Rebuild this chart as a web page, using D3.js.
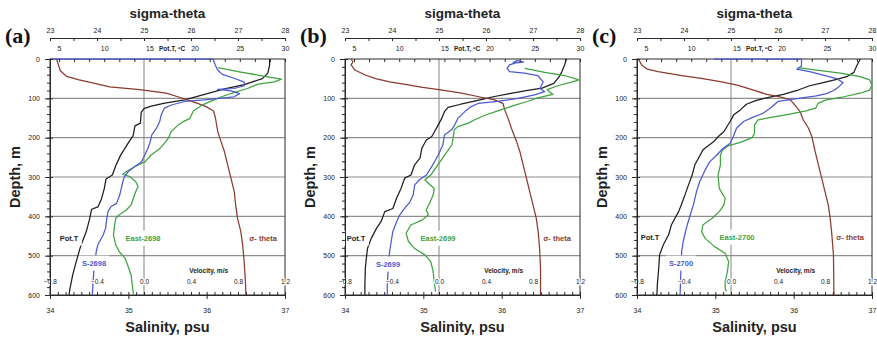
<!DOCTYPE html>
<html>
<head>
<meta charset="utf-8">
<script src="https://cdn.jsdelivr.net/npm/d3@7"></script>
<style>
  body { margin: 0; background: #fff; }
  svg { display: block; }
  text { font-family: "Liberation Sans", Arial, sans-serif; }
</style>
</head>
<body>
<svg id="chart" width="877" height="338"></svg>
<script>
// Axis ticks and labels
const depthTicks = [0, 100, 200, 300, 400, 500, 600];
const gridDepths = [100, 200, 300, 400, 500];
const sigmaTicks = [23, 24, 25, 26, 27, 28];
const tempTicks = [5, 10, 15, 20, 25, 30];
const salinityTicks = [34, 35, 36, 37];
const velocityTicks = [-0.8, -0.4, 0, 0.4, 0.8, 1.2];
const stations = ["2698", "2699", "2700"];
const panelLetters = ["(a)", "(b)", "(c)"];

// Profiles: [value, depth m]
const potT2698 = [[28.3,0],[28.3,15],[28.1,36],[27.5,50],[25.5,65],[23.3,76],[21.1,90],[18.9,104],[16.7,112],[15.2,120],[14.4,126],[14.1,135],[14.0,163],[13.4,170],[13.2,195],[12.7,212],[11.8,245],[11.3,270],[10.9,295],[10.2,305],[10.0,330],[9.7,355],[9.3,376],[8.6,382],[8.4,405],[8.0,440],[7.4,475],[6.9,515],[6.5,550],[6.2,585],[6.1,600]];
const sal2698 = [[34.00,0],[36.08,0],[36.11,15],[36.14,28],[36.20,39],[36.35,49],[36.48,59],[36.48,68],[36.35,75],[36.14,77],[36.31,81],[36.42,88],[36.35,96],[35.97,104],[35.72,108],[35.55,117],[35.46,125],[35.42,142],[35.40,159],[35.36,176],[35.30,193],[35.28,210],[35.25,227],[35.21,244],[35.17,261],[35.08,274],[35.00,286],[34.95,299],[34.93,312],[34.91,329],[34.89,346],[34.85,367],[34.78,375],[34.74,388],[34.72,413],[34.71,430],[34.68,447],[34.61,473],[34.59,490],[34.56,540],[34.55,566],[34.54,600]];
const east2698 = [[0.63,22],[0.80,32],[0.99,42],[1.17,51],[1.11,58],[0.97,64],[0.88,75],[0.75,87],[0.66,96],[0.58,106],[0.49,118],[0.42,132],[0.39,151],[0.33,160],[0.29,168],[0.23,185],[0.21,200],[0.18,212],[0.13,229],[0.06,244],[0.01,261],[-0.08,274],[-0.15,286],[-0.18,293],[-0.12,299],[-0.07,312],[-0.05,324],[-0.07,337],[-0.09,354],[-0.11,371],[-0.15,384],[-0.21,396],[-0.24,405],[-0.25,422],[-0.26,447],[-0.24,473],[-0.21,490],[-0.16,507],[-0.14,523],[-0.11,549],[-0.10,574],[-0.09,600]];
const sigma2698 = [[23.14,0],[23.18,15],[23.22,30],[23.35,44],[23.62,53],[23.95,62],[24.27,71],[24.91,78],[25.47,87],[25.72,96],[25.92,104],[26.14,113],[26.32,121],[26.48,132],[26.52,150],[26.57,185],[26.64,210],[26.71,235],[26.78,269],[26.85,303],[26.92,337],[26.95,371],[26.99,405],[27.06,439],[27.10,473],[27.13,515],[27.15,549],[27.17,600]];

const potT2699 = [[28.5,0],[28.3,15],[28.0,32],[27.7,45],[27.1,62],[25.8,74],[24.2,80],[22.2,88],[20.4,96],[19.3,102],[18.2,108],[16.8,115],[15.4,123],[15.0,134],[14.7,151],[14.3,168],[13.9,185],[13.6,197],[13.0,206],[12.5,227],[12.3,252],[11.7,269],[11.3,295],[10.6,303],[10.2,329],[9.7,354],[9.3,380],[8.4,388],[8.0,413],[7.5,430],[6.9,456],[6.5,481],[6.4,498],[6.25,532],[6.2,574],[6.2,600]];
const sal2699 = [[36.14,10],[36.20,4],[36.28,8],[36.18,10],[36.10,15],[36.07,24],[36.10,32],[36.29,36],[36.46,42],[36.53,58],[36.49,75],[36.55,83],[36.42,91],[36.21,100],[35.95,108],[35.70,113],[35.61,121],[35.55,130],[35.44,151],[35.40,168],[35.36,180],[35.27,193],[35.25,218],[35.19,244],[35.12,269],[35.04,295],[34.95,307],[34.89,320],[34.87,346],[34.83,363],[34.76,380],[34.70,396],[34.66,413],[34.61,439],[34.59,464],[34.57,490],[34.56,506],[34.55,540],[34.54,574],[34.54,600]];
const east2699 = [[0.73,24],[0.90,34],[1.07,42],[1.19,53],[1.13,59],[1.01,68],[0.92,78],[0.97,90],[0.84,99],[0.75,108],[0.64,118],[0.50,132],[0.39,143],[0.30,155],[0.25,163],[0.16,172],[0.13,180],[0.12,202],[0.11,218],[0.05,244],[-0.01,269],[-0.07,295],[-0.12,307],[-0.09,316],[-0.04,329],[-0.05,346],[-0.08,367],[-0.11,384],[-0.09,396],[-0.14,409],[-0.24,422],[-0.28,443],[-0.26,464],[-0.21,481],[-0.12,498],[-0.07,515],[-0.05,540],[-0.04,566],[-0.03,591]];
const sigma2699 = [[23.13,0],[23.17,7],[23.13,15],[23.21,28],[23.42,40],[23.65,50],[23.95,58],[24.35,66],[24.65,72],[25.00,78],[25.45,86],[25.85,96],[26.18,104],[26.36,113],[26.40,130],[26.47,151],[26.54,176],[26.65,210],[26.72,235],[26.79,269],[26.86,303],[26.93,337],[27.00,371],[27.07,405],[27.11,439],[27.14,481],[27.16,532],[27.16,600]];

const potT2700 = [[28.7,0],[28.3,18],[28.0,34],[27.2,45],[26.1,52],[24.6,60],[23.1,68],[21.7,80],[20.2,90],[18.7,97],[17.2,105],[16.1,115],[15.4,130],[14.7,142],[14.3,159],[13.6,185],[13.0,197],[12.5,210],[11.3,231],[11.0,244],[10.4,269],[10.1,295],[9.7,320],[9.3,346],[8.9,371],[8.6,388],[8.2,405],[7.8,422],[7.5,447],[6.9,473],[6.5,498],[6.4,532],[6.25,574],[6.2,600]];
const sal2700 = [[34.98,0],[36.10,0],[36.10,18],[36.04,26],[36.22,33],[36.40,42],[36.55,50],[36.63,60],[36.57,72],[36.51,80],[36.42,88],[36.29,94],[36.04,101],[35.80,108],[35.70,125],[35.61,138],[35.49,147],[35.36,159],[35.27,176],[35.23,197],[35.19,214],[35.10,227],[35.02,244],[34.93,261],[34.87,282],[34.80,312],[34.76,337],[34.72,371],[34.68,396],[34.63,430],[34.59,464],[34.57,490],[34.56,540],[34.55,600]];
const east2700 = [[0.57,22],[0.73,28],[0.93,36],[1.10,45],[1.18,53],[1.20,66],[1.18,79],[1.10,87],[0.96,96],[0.81,104],[0.74,113],[0.72,125],[0.64,132],[0.50,140],[0.33,149],[0.23,155],[0.20,168],[0.20,189],[0.18,200],[0.08,212],[-0.02,220],[-0.07,231],[-0.09,244],[-0.09,269],[-0.11,295],[-0.10,329],[-0.05,354],[-0.06,371],[-0.10,388],[-0.16,405],[-0.24,422],[-0.25,439],[-0.22,456],[-0.14,477],[-0.05,494],[-0.02,515],[-0.03,540],[-0.05,566],[-0.05,583],[-0.04,591]];
const sigma2700 = [[23.03,0],[23.10,15],[23.22,26],[23.45,32],[23.70,37],[23.95,42],[24.40,50],[24.80,58],[25.15,67],[25.48,79],[25.76,90],[26.04,96],[26.26,104],[26.36,117],[26.47,134],[26.54,155],[26.65,176],[26.72,197],[26.79,235],[26.86,269],[26.93,303],[27.00,337],[27.07,371],[27.11,405],[27.14,439],[27.18,498],[27.19,600]];

const potTProfiles = [potT2698, potT2699, potT2700];
const salProfiles = [sal2698, sal2699, sal2700];
const eastProfiles = [east2698, east2699, east2700];
const sigmaProfiles = [sigma2698, sigma2699, sigma2700];

// Layout
const panelLeft = [50, 345, 637];
const W = 235, TOP = 59, H = 236;
const SIG_AXIS_Y = 38;
// curve label anchors: [x offset from panel left, y offset from top]
const labelLayout = [
  { potT: [19, 179], east: [93, 179], sigma: [213, 179], sal: [44, 204] },
  { potT: [11, 179], east: [93, 179], sigma: [212, 179], sal: [43, 205] },
  { potT: [13, 178], east: [100, 178], sigma: [213, 178], sal: [44, 204] }
];
const colors = {
  potT: "#1e1e1e", sal: "#4c5ad0", east: "#3fa33f", sigma: "#8a3b30",
  grid: "#8e8e8e", axis: "#2a2a2a"
};

const svg = d3.select("#chart");

function styleAxis(g, fontSize) {
  g.selectAll("path.domain").attr("stroke", colors.axis);
  g.selectAll(".tick line").attr("stroke", colors.axis);
  g.selectAll(".tick text").attr("font-size", fontSize).attr("fill", "#222")
    .attr("font-family", '"Liberation Sans", Arial, sans-serif');
}

stations.forEach((st, i) => {
  const x0 = panelLeft[i];
  const g = svg.append("g");
  const y = d3.scaleLinear().domain([0, 600]).range([TOP, TOP + H]);
  const xSal = d3.scaleLinear().domain([34, 37]).range([x0, x0 + W]);
  const xT = d3.scaleLinear().domain([4, 30]).range([x0, x0 + W]);
  const xSig = d3.scaleLinear().domain([23, 28]).range([x0, x0 + W]);
  const xV = d3.scaleLinear().domain([-0.8, 1.2]).range([x0, x0 + W]);

  // grid lines
  g.selectAll("line.hgrid").data(gridDepths).join("line").attr("class", "hgrid")
    .attr("x1", x0).attr("x2", x0 + W)
    .attr("y1", d => y(d)).attr("y2", d => y(d))
    .attr("stroke", colors.grid).attr("stroke-width", 1.2);
  g.append("line")
    .attr("x1", xV(0)).attr("x2", xV(0)).attr("y1", TOP).attr("y2", TOP + H)
    .attr("stroke", colors.grid).attr("stroke-width", 1.1);

  // frame
  g.append("rect").attr("x", x0).attr("y", TOP).attr("width", W).attr("height", H)
    .attr("fill", "none").attr("stroke", colors.axis).attr("stroke-width", 1);

  // profiles
  const series = [
    { data: potTProfiles[i], x: xT, color: colors.potT },
    { data: sigmaProfiles[i], x: xSig, color: colors.sigma },
    { data: eastProfiles[i], x: xV, color: colors.east },
    { data: salProfiles[i], x: xSal, color: colors.sal }
  ];
  series.forEach(s => {
    g.append("path").datum(s.data)
      .attr("fill", "none").attr("stroke", s.color).attr("stroke-width", 1.25)
      .attr("stroke-linejoin", "round")
      .attr("d", d3.line().x(d => s.x(d[0])).y(d => y(d[1])));
  });

  // curve labels on white boxes
  const lay = labelLayout[i];
  const labels = [
    { text: "Pot.T", pos: lay.potT, color: colors.potT },
    { text: "East-" + st, pos: lay.east, color: colors.east },
    { text: "\u03c3- theta", pos: lay.sigma, color: colors.sigma },
    { text: "S-" + st, pos: lay.sal, color: colors.sal }
  ];
  labels.forEach(l => {
    const lg = g.append("g");
    const t = lg.append("text")
      .attr("x", x0 + l.pos[0]).attr("y", TOP + l.pos[1]).attr("dy", "0.35em")
      .attr("text-anchor", "middle").attr("font-size", 7.5).attr("font-weight", "bold")
      .attr("fill", l.color).text(l.text);
    const b = t.node().getBBox();
    lg.insert("rect", "text")
      .attr("x", b.x - 3).attr("y", b.y - 3).attr("width", b.width + 6).attr("height", b.height + 6)
      .attr("fill", "#fff");
  });

  // velocity scale labels inside the plot
  const vAx = g.append("g").attr("transform", `translate(0,${TOP + H})`)
    .call(d3.axisTop(xV).tickValues(velocityTicks).tickSize(0).tickPadding(11));
  vAx.select("path.domain").remove();
  styleAxis(vAx, 6.5);
  vAx.selectAll(".tick text").attr("paint-order", "stroke").attr("stroke", "#fff").attr("stroke-width", 2.5);
  g.append("text").attr("x", xV(0.55)).attr("y", TOP + 214)
    .attr("text-anchor", "middle").attr("font-size", 6.5).attr("font-weight", "bold")
    .attr("fill", "#222").text("Velocity, m/s");

  // depth axis
  const dMinor = g.append("g").attr("transform", `translate(${x0},0)`)
    .call(d3.axisLeft(y).tickValues(d3.range(0, 601, 20)).tickSize(3).tickFormat("").tickSizeOuter(0));
  dMinor.select("path.domain").remove();
  styleAxis(dMinor, 7);
  const dMajor = g.append("g").attr("transform", `translate(${x0},0)`)
    .call(d3.axisLeft(y).tickValues(depthTicks).tickSize(5).tickPadding(5).tickSizeOuter(0));
  styleAxis(dMajor, 7);
  const dIn = g.append("g").attr("transform", `translate(${x0},0)`)
    .call(d3.axisRight(y).tickValues(depthTicks).tickSize(3).tickFormat("").tickSizeOuter(0));
  dIn.select("path.domain").remove();
  styleAxis(dIn, 7);

  // salinity axis
  const sMinor = g.append("g").attr("transform", `translate(0,${TOP + H})`)
    .call(d3.axisTop(xSal).tickValues(d3.range(34, 37.001, 0.1)).tickSize(3).tickFormat("").tickSizeOuter(0));
  sMinor.select("path.domain").remove();
  styleAxis(sMinor, 7);
  const sMajor = g.append("g").attr("transform", `translate(0,${TOP + H})`)
    .call(d3.axisBottom(xSal).tickValues(salinityTicks).tickSize(4).tickPadding(9).tickSizeOuter(0).tickFormat(d3.format("d")));
  styleAxis(sMajor, 7);

  // potential temperature axis on the top frame
  const tMinor = g.append("g").attr("transform", `translate(0,${TOP})`)
    .call(d3.axisBottom(xT).tickValues(d3.range(5, 30.01, 5 / 3)).tickSize(3).tickFormat("").tickSizeOuter(0));
  tMinor.select("path.domain").remove();
  styleAxis(tMinor, 7);
  const tLab = g.append("g").attr("transform", `translate(0,${TOP})`)
    .call(d3.axisTop(xT).tickValues(tempTicks).tickSize(0).tickPadding(8).tickFormat(d3.format("d")));
  tLab.select("path.domain").remove();
  styleAxis(tLab, 7);
  g.append("text").attr("x", xT(17.5)).attr("y", TOP - 8)
    .attr("text-anchor", "middle").attr("font-size", 6.5).attr("font-weight", "bold")
    .attr("fill", "#222").text("Pot.T, \u00baC");

  // sigma-theta axis
  const sgTicks = g.append("g").attr("transform", `translate(0,${SIG_AXIS_Y})`)
    .call(d3.axisBottom(xSig).tickValues(d3.range(23, 28.001, 0.5)).tickSize(3).tickFormat("").tickSizeOuter(0));
  styleAxis(sgTicks, 7);
  const sgLab = g.append("g").attr("transform", `translate(0,${SIG_AXIS_Y})`)
    .call(d3.axisTop(xSig).tickValues(sigmaTicks).tickSize(0).tickPadding(5).tickFormat(d3.format("d")));
  sgLab.select("path.domain").remove();
  styleAxis(sgLab, 7);

  // titles
  g.append("text").attr("x", x0 + W / 2).attr("y", 18)
    .attr("text-anchor", "middle").attr("font-size", 13.5).attr("font-weight", "bold")
    .attr("fill", "#222").text("sigma-theta");
  g.append("text").attr("x", x0 + W / 2).attr("y", 332)
    .attr("text-anchor", "middle").attr("font-size", 14.5).attr("font-weight", "bold")
    .attr("fill", "#222").text("Salinity, psu");
  g.append("text")
    .attr("transform", `translate(${x0 - 35},${TOP + H / 2}) rotate(-90)`)
    .attr("text-anchor", "middle").attr("dy", "0.35em")
    .attr("font-size", 14.5).attr("font-weight", "bold").attr("fill", "#222").text("Depth, m");
  g.append("text").attr("x", x0 - 45).attr("y", 43)
    .style("font-family", '"Liberation Serif", "Times New Roman", serif')
    .attr("font-size", 22).attr("font-weight", "bold").attr("fill", "#111").text(panelLetters[i]);
});
</script>
</body>
</html>
